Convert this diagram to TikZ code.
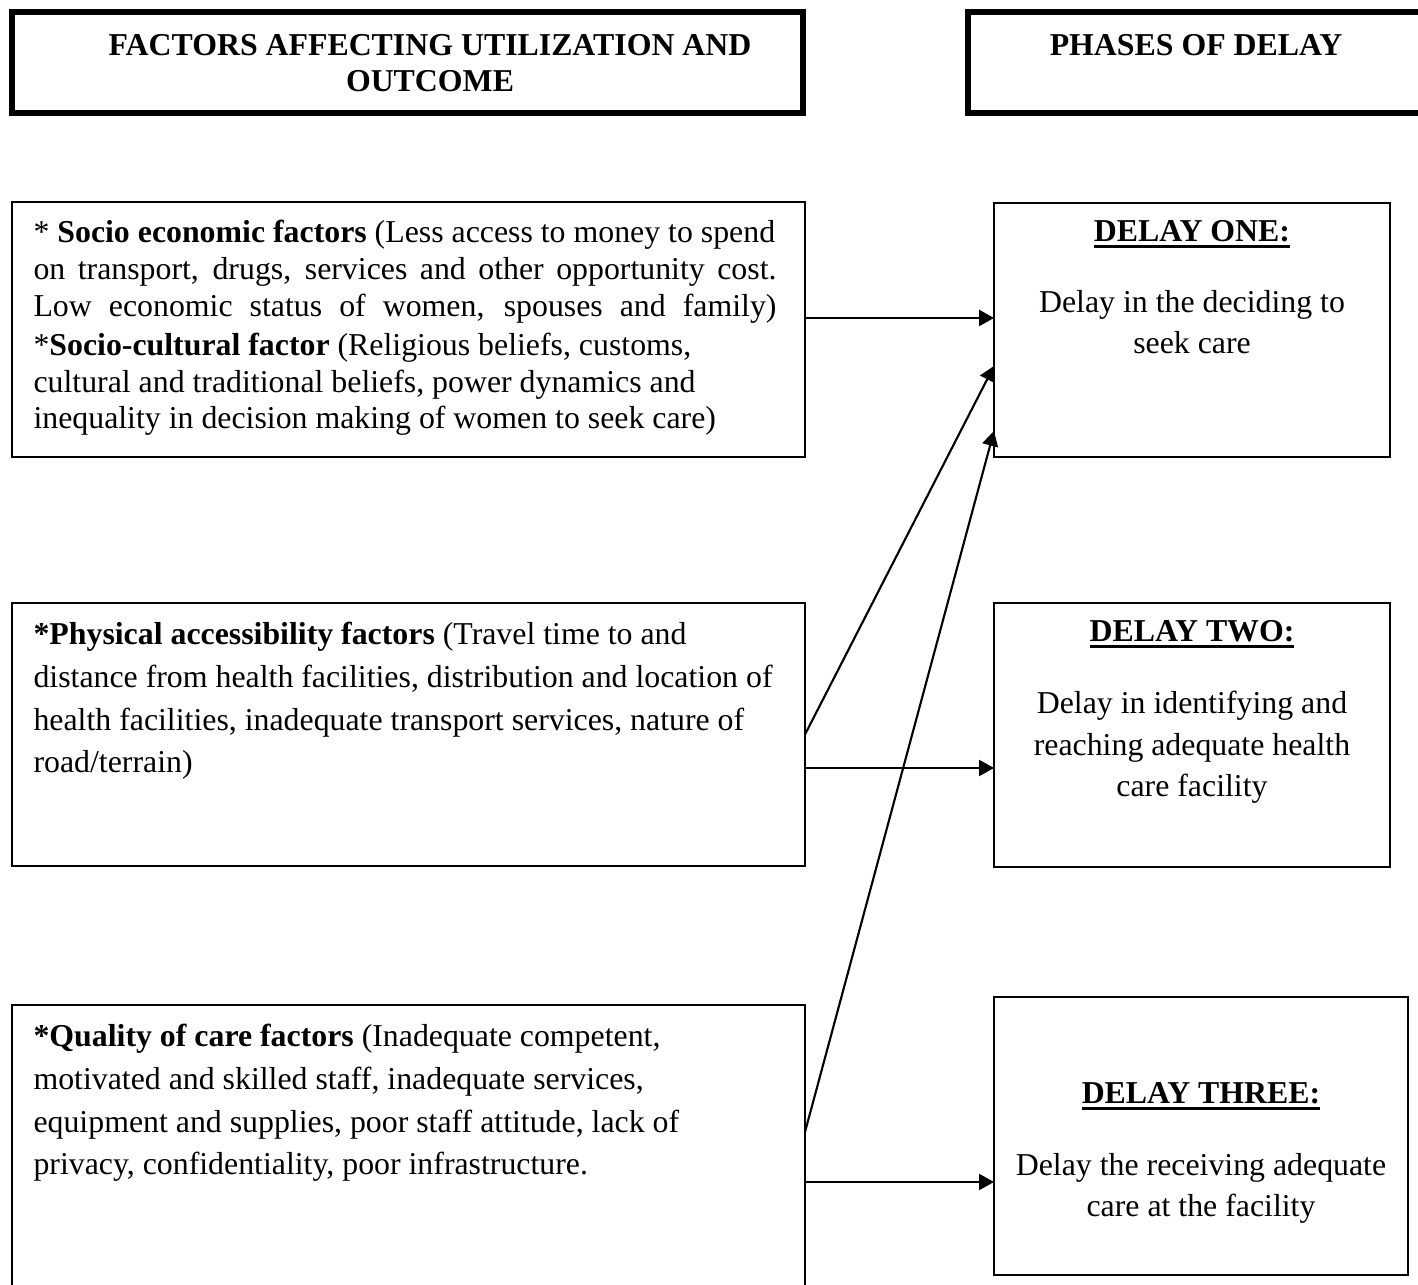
\documentclass[tikz,border=0pt]{standalone}
\usepackage{fontspec}
\setmainfont{Liberation Serif}
\usetikzlibrary{arrows.meta, positioning, calc}
\newdimen\pxu
\pxu=0.377pt
\newcommand{\thickul}[1]{\setbox0\hbox{#1}\rlap{\rule[-2.4pt]{\wd0}{1.1pt}}\box0}
\tikzstyle{header} = [
  rectangle,
  draw=black,
  line width=2.3pt,
  inner sep=0pt,
  outer sep=0pt,
  anchor=north west
]
\tikzstyle{factor} = [
  rectangle,
  draw=black,
  line width=0.8pt,
  inner sep=0pt,
  outer sep=0pt,
  anchor=north west
]
\tikzstyle{headtext} = [
  font=\fontsize{12}{13.6}\selectfont\bfseries,
  align=center,
  anchor=base,
  inner sep=0pt
]
\tikzstyle{bodytext} = [
  font=\fontsize{12}{16.1}\selectfont,
  align=left,
  anchor=base west,
  inner sep=0pt
]
\tikzstyle{delaytitle} = [
  font=\fontsize{12}{15.8}\selectfont\bfseries,
  anchor=base,
  inner sep=0pt
]
\tikzstyle{delaytext} = [
  font=\fontsize{12}{15.8}\selectfont,
  align=center,
  anchor=base,
  inner sep=0pt
]
\tikzstyle{arrow} = [line width=0.8pt, ->, >={Triangle[length=5.6pt, width=6pt]}]

\begin{document}
\begin{tikzpicture}[x=\pxu, y=-\pxu]
    \useasboundingbox (0,0) rectangle (1418,1285);

    % headers (text nodes sit on their last line)
    \node (hd-factors) [header, minimum width={791*\pxu}, minimum height={101*\pxu}] at (12,12) {};
    \node (hd-phases) [header, minimum width={456*\pxu}, minimum height={101*\pxu}] at (968,12) {};
    \node (hd-factors-text) [headtext] at (430,92) {FACTORS AFFECTING UTILIZATION AND\\OUTCOME};
    \node (hd-phases-text) [headtext] at (1196,56) {PHASES OF DELAY};

    % factor boxes
    \node (socio) [factor, minimum width={793*\pxu}, minimum height={255*\pxu}] at (12,202) {};
    \node (physical) [factor, minimum width={793*\pxu}, minimum height={263*\pxu}] at (12,603) {};
    \node (quality) [factor, minimum width={793*\pxu}, minimum height={300*\pxu}] at (12,1005) {};

    \node (socio-text) [bodytext, font=\fontsize{12}{13.9}\selectfont] at (33,429)
      {* \textbf{Socio economic factors} (Less access to money to spend\\
       \makebox[743\pxu][s]{on transport, drugs, services and other opportunity cost.}\\
       \makebox[743\pxu][s]{Low economic status of women, spouses and family)}\\[0.8pt]
       *\textbf{Socio-cultural factor} (Religious beliefs, customs,\\
       cultural and traditional beliefs, power dynamics and\\
       inequality in decision making of women to seek care)};
    \node (physical-text) [bodytext] at (33,773)
      {\textbf{*Physical accessibility factors} (Travel time to and\\
       distance from health facilities, distribution and location of\\
       health facilities, inadequate transport services, nature of\\
       road/terrain)};
    \node (quality-text) [bodytext] at (33,1175)
      {\textbf{*Quality of care factors} (Inadequate competent,\\
       motivated and skilled staff, inadequate services,\\
       equipment and supplies, poor staff attitude, lack of\\
       privacy, confidentiality, poor infrastructure.};

    % delay boxes
    \node (delay-one) [factor, minimum width={396*\pxu}, minimum height={254*\pxu}] at (994,203) {};
    \node (delay-two) [factor, minimum width={396*\pxu}, minimum height={264*\pxu}] at (994,603) {};
    \node (delay-three) [factor, minimum width={414*\pxu}, minimum height={278*\pxu}] at (994,997) {};

    \node (delay-one-title) [delaytitle] at (1192,242) {\thickul{DELAY ONE:}};
    \node (delay-one-text) [delaytext] at (1192,354) {Delay in the deciding to\\seek care};
    \node (delay-two-title) [delaytitle] at (1192,642) {\thickul{DELAY TWO:}};
    \node (delay-two-text) [delaytext] at (1192,797) {Delay in identifying and\\reaching adequate health\\care facility};
    \node (delay-three-title) [delaytitle] at (1201,1104) {\thickul{DELAY THREE:}};
    \node (delay-three-text) [delaytext] at (1201,1217) {Delay the receiving adequate\\care at the facility};

    % connector start points
    \coordinate (socio-out) at ($(socio.east)+(0,-11.5)$);
    \coordinate (physical-out) at ($(physical.east)+(0,33.5)$);
    \coordinate (quality-up) at ($(quality.east)+(0,-23)$);
    \coordinate (quality-out) at ($(quality.east)+(0,27)$);

    \draw [arrow] (socio-out) -- (socio-out -| delay-one.west);
    \draw [arrow] (physical-out) -- (physical-out -| delay-two.west);
    \draw [arrow] (physical.east) -- ($(delay-one.west)+(0,36)$);
    \draw [arrow] (quality-up) -- ($(delay-one.west)+(0,101)$);
    \draw [arrow] (quality-out) -- (quality-out -| delay-three.west);
  \end{tikzpicture}
\end{document}
